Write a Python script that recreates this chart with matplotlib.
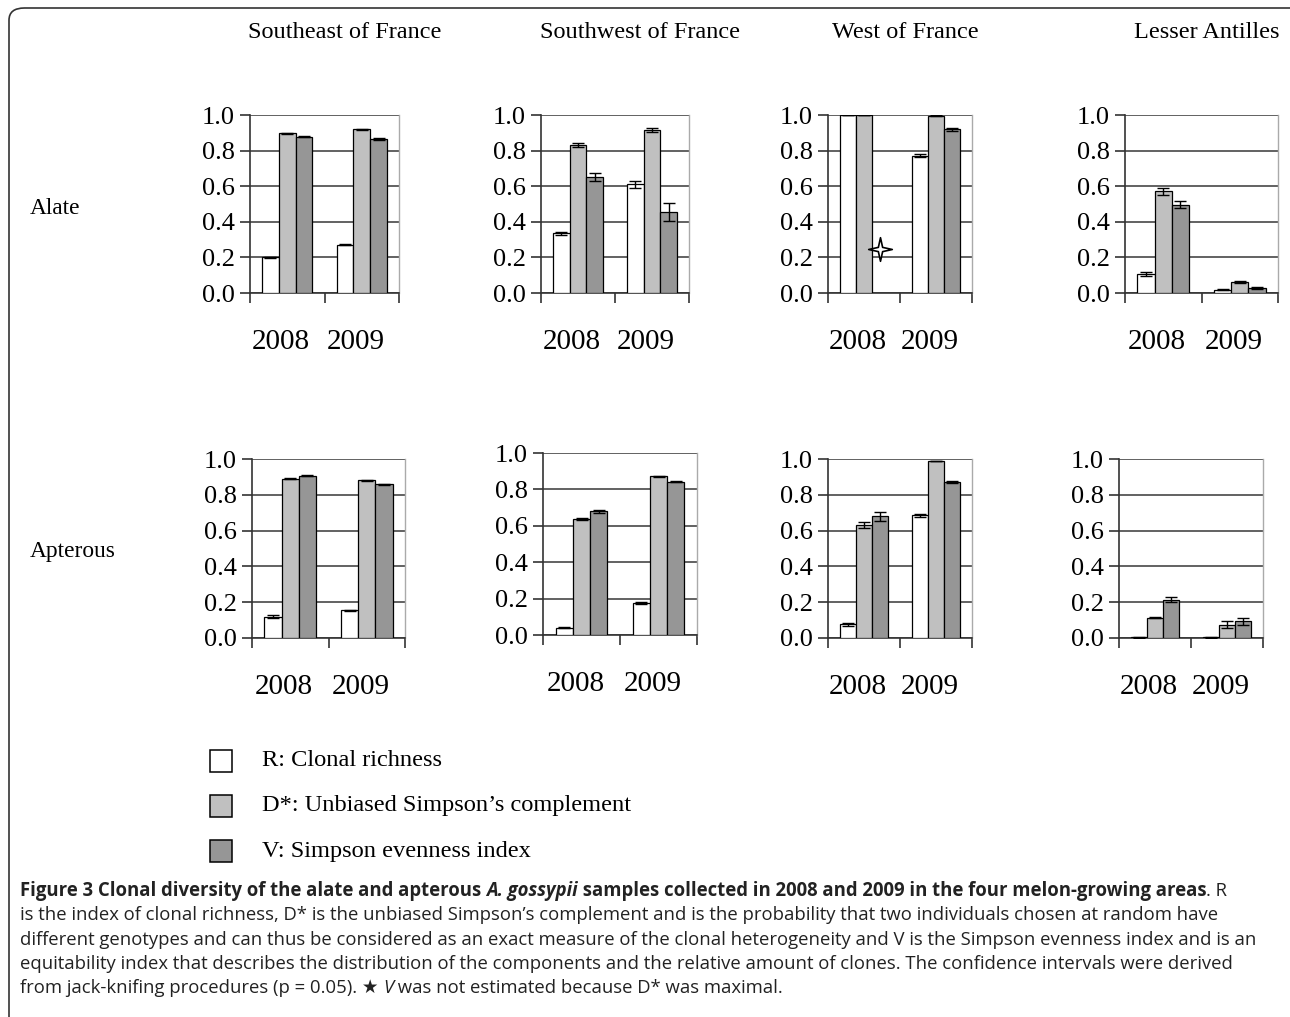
import numpy as np
import matplotlib
matplotlib.use("Agg")
import matplotlib.pyplot as plt
from matplotlib.patches import FancyBboxPatch, Rectangle
from matplotlib.path import Path

W, H = 1290, 1017

regions = ["Southeast of France", "Southwest of France", "West of France", "Lesser Antilles"]
morphs = ["Alate", "Apterous"]
years = ["2008", "2009"]
index_names = ["R: Clonal richness",
               "D*: Unbiased Simpson\u2019s complement",
               "V: Simpson evenness index"]

# values per region, [2008, 2009]
alate_R = [[0.20, 0.272], [0.335, 0.612], [1.00, 0.772], [0.107, 0.018]]
alate_R_err = [[0.004, 0.004], [0.01, 0.02], [0.0, 0.01], [0.01, 0.003]]
alate_D = [[0.898, 0.920], [0.833, 0.914], [1.00, 0.996], [0.572, 0.064]]
alate_D_err = [[0.003, 0.003], [0.01, 0.012], [0.0, 0.002], [0.02, 0.006]]
alate_V = [[0.878, 0.866], [0.652, 0.455], [np.nan, 0.920], [0.495, 0.030]]
alate_V_err = [[0.003, 0.004], [0.02, 0.05], [np.nan, 0.008], [0.02, 0.006]]

apt_R = [[0.12, 0.156], [0.04, 0.174], [0.076, 0.686], [0.003, 0.003]]
apt_R_err = [[0.01, 0.003], [0.002, 0.006], [0.01, 0.008], [0.001, 0.001]]
apt_D = [[0.889, 0.880], [0.639, 0.872], [0.632, 0.989], [0.114, 0.074]]
apt_D_err = [[0.003, 0.002], [0.005, 0.004], [0.018, 0.002], [0.005, 0.02]]
apt_V = [[0.906, 0.860], [0.681, 0.843], [0.680, 0.872], [0.215, 0.093]]
apt_V_err = [[0.003, 0.003], [0.008, 0.005], [0.025, 0.004], [0.012, 0.018]]

star_value = 0.245  # marker where V was not estimated (West of France, alate, 2008)

colors = ["white", "#c0c0c0", "#969696"]
serif = "Liberation Serif"

# axes boxes in pixels: left, top, right, bottom
boxes = [
    [(250, 115, 399, 293), (541, 115, 689, 293), (828, 115, 972, 293), (1125, 115, 1278, 293)],
    [(252, 459, 405, 638), (543, 453, 697, 635), (828, 459, 972, 638), (1119, 459, 1263, 638)],
]

fig = plt.figure(figsize=(W / 100, H / 100), dpi=100)


def px_axes(l, t, r, b):
    return fig.add_axes([l / W, 1 - b / H, (r - l) / W, (b - t) / H])


star = Path([(0, 1), (0.18, 0.18), (1, 0), (0.18, -0.18), (0, -1), (-0.18, -0.18),
             (-1, 0), (-0.18, 0.18), (0, 1)], closed=True)

data = [
    (alate_R, alate_R_err, alate_D, alate_D_err, alate_V, alate_V_err),
    (apt_R, apt_R_err, apt_D, apt_D_err, apt_V, apt_V_err),
]

bw = 0.225
x = np.array([0.5, 1.5])
for row in range(2):
    R, Re, D, De, V, Ve = data[row]
    for col in range(4):
        ax = px_axes(*boxes[row][col])
        series = [(R[col], Re[col]), (D[col], De[col]), (V[col], Ve[col])]
        for k, (vals, errs) in enumerate(series):
            xs = x + (k - 1) * bw
            ax.bar(xs, vals, width=bw, color=colors[k], edgecolor="black",
                   linewidth=0.9, zorder=3)
            ax.errorbar(xs, vals, yerr=errs, fmt="none", ecolor="black",
                        elinewidth=1, capsize=4, capthick=1, zorder=4)
        if row == 0 and col == 2:
            ax.plot(x[0] + bw, star_value, marker=star, markersize=17,
                    markerfacecolor="white", markeredgecolor="black",
                    markeredgewidth=1.2, zorder=5)
        ax.set_xlim(0, 2)
        ax.set_ylim(0, 1)
        ax.set_yticks(np.arange(0, 1.01, 0.2))
        ax.set_yticklabels([f"{v:.1f}" for v in np.arange(0, 1.01, 0.2)],
                           fontfamily=serif, fontsize=19)
        ax.yaxis.grid(True, color="#555555", linewidth=1.3, zorder=0)
        ax.set_axisbelow(True)
        ax.set_xticks([0, 1, 2])
        ax.set_xticklabels([])
        ax.set_xticks(x - 0.08, years, minor=True)
        ax.tick_params(axis="x", which="minor", length=0, pad=26)
        for lab in ax.get_xticklabels(minor=True):
            lab.set_fontfamily(serif)
            lab.set_fontsize(21)
        ax.tick_params(axis="x", which="major", length=7, width=1.2, color="#333333")
        ax.tick_params(axis="y", length=7, width=1.2, color="#333333", pad=4)
        ax.spines["top"].set_visible(False)
        ax.spines["right"].set_color("#aaaaaa")
        ax.spines["right"].set_linewidth(1)
        ax.spines["left"].set_color("#333333")
        ax.spines["left"].set_linewidth(1.2)
        ax.spines["bottom"].set_color("#333333")
        ax.spines["bottom"].set_linewidth(1.2)

# column titles and row labels
title_x = [345, 640, 905, 1207]
for name, tx in zip(regions, title_x):
    fig.text(tx / W, 1 - 33 / H, name, ha="center", va="center",
             fontfamily=serif, fontsize=17.5)
for name, ty in zip(morphs, [208, 551]):
    fig.text(30 / W, 1 - ty / H, name, ha="left", va="center",
             fontfamily=serif, fontsize=16.8)

# legend
for k, (name, ly) in enumerate(zip(index_names, [761, 806, 851])):
    fig.patches.append(Rectangle(((210) / W, 1 - (ly + 11) / H), 22 / W, 22 / H,
                                 transform=fig.transFigure, facecolor=colors[k],
                                 edgecolor="black", linewidth=1.1))
    fig.text(262 / W, 1 - ly / H, name, ha="left", va="center",
             fontfamily=serif, fontsize=17.6)

# frame
fig.patches.append(FancyBboxPatch((9 / W, 1 - 1030 / H), 1320 / W, 1022 / H,
                                  boxstyle="round,pad=0,rounding_size=0.012",
                                  transform=fig.transFigure, facecolor="none",
                                  edgecolor="#333333", linewidth=1.2))

# caption, pieces laid out along each line
cap_fs = 13.35
cap_font = ["Open Sans", "DejaVu Sans"]
lines = [
    [("Figure 3 Clonal diversity of the alate and apterous ", "bold", "normal"),
     ("A. gossypii", "bold", "italic"),
     (" samples collected in 2008 and 2009 in the four melon-growing areas", "bold", "normal"),
     (". R", "normal", "normal")],
    [("is the index of clonal richness, D* is the unbiased Simpson\u2019s complement and is "
      "the probability that two individuals chosen at random have", "normal", "normal")],
    [("different genotypes and can thus be considered as an exact measure of the clonal "
      "heterogeneity and V is the Simpson evenness index and is an", "normal", "normal")],
    [("equitability index that describes the distribution of the components and the "
      "relative amount of clones. The confidence intervals were derived", "normal", "normal")],
    [("from jack-knifing procedures (p = 0.05). \u2605 ", "normal", "normal"),
     ("V", "normal", "italic"),
     (" was not estimated because D* was maximal.", "normal", "normal")],
]
line_y = [896, 920, 945, 969, 993]
renderer = fig.canvas.get_renderer()
for pieces, by in zip(lines, line_y):
    cx = 20
    for txt, weight, style in pieces:
        t = fig.text(cx / W, 1 - by / H, txt, ha="left", va="baseline",
                     fontfamily=cap_font, fontsize=cap_fs, fontweight=weight,
                     fontstyle=style, color="#222222")
        cx = t.get_window_extent(renderer).x1

fig.savefig("out.png", dpi=100)
